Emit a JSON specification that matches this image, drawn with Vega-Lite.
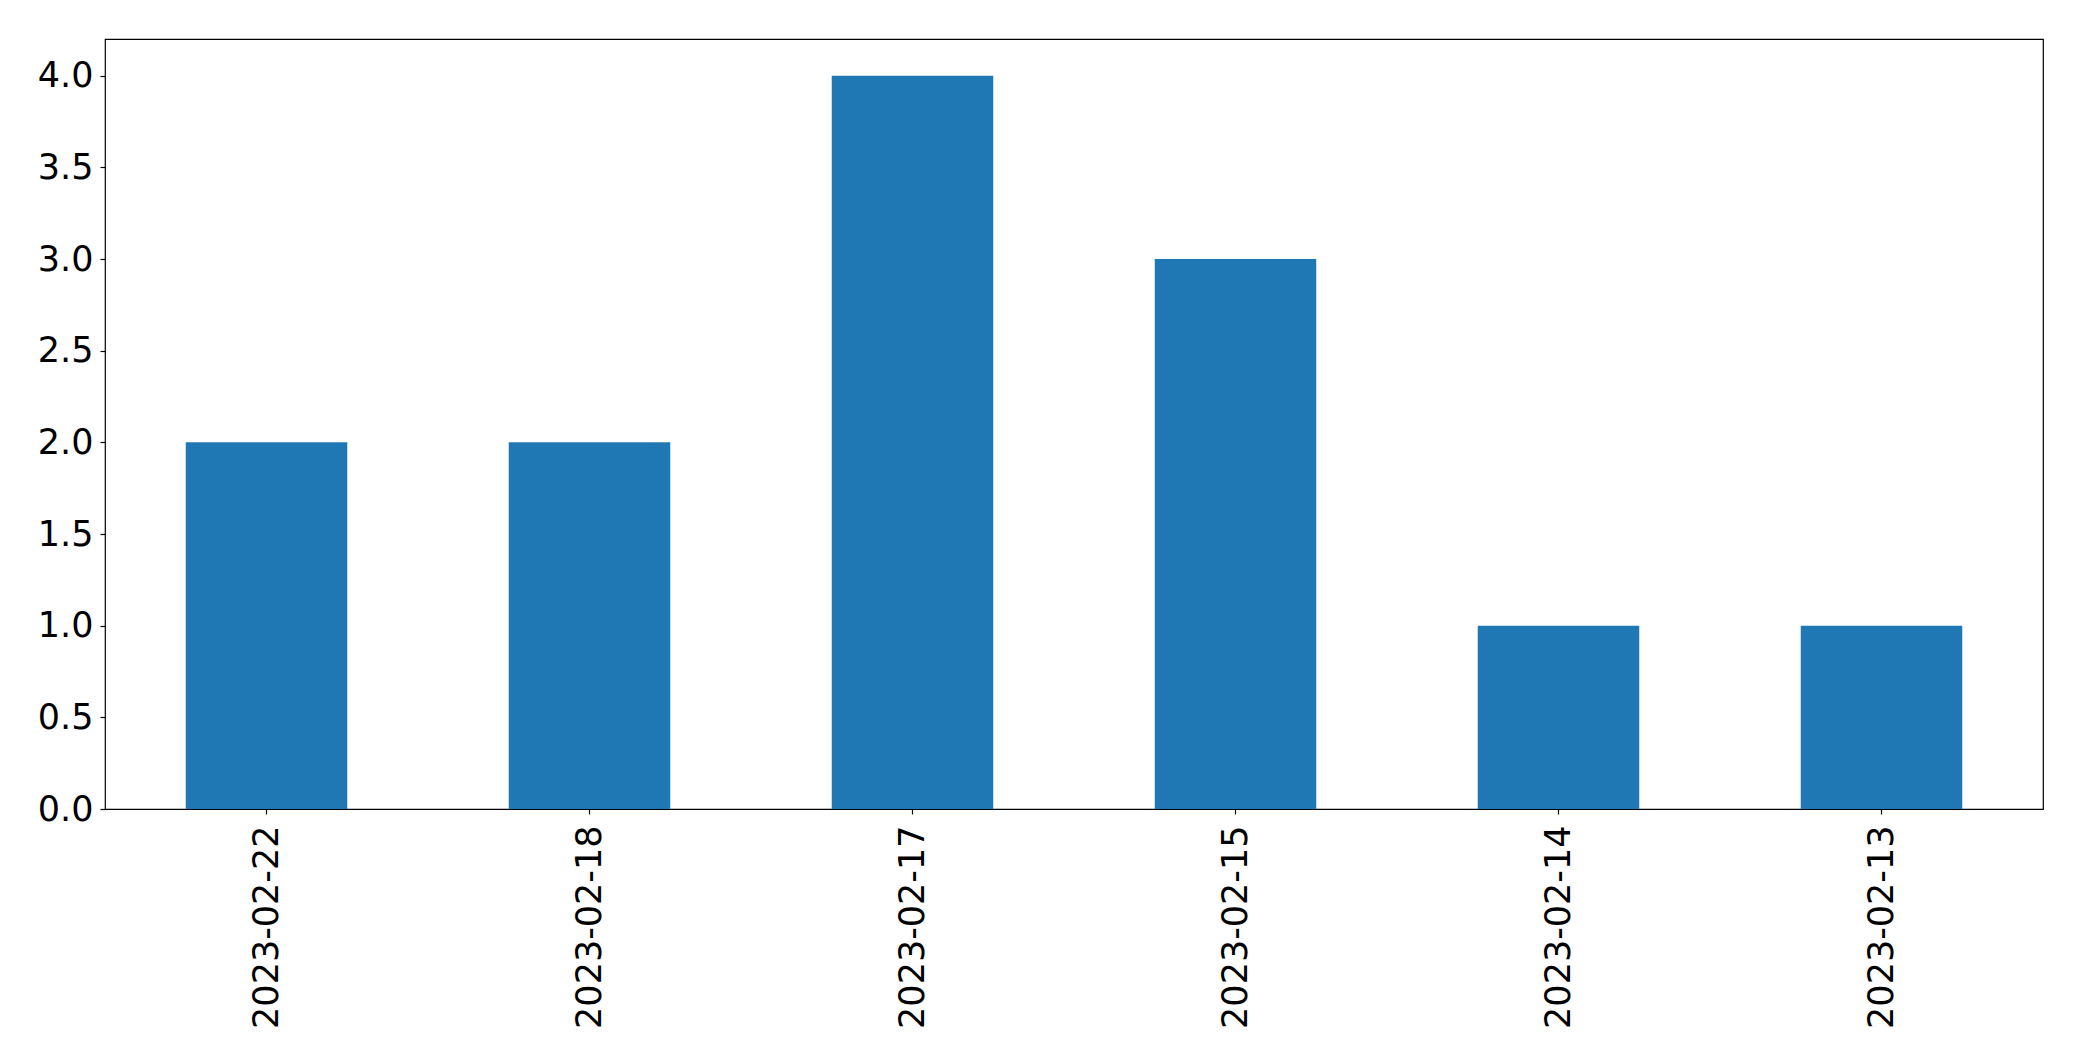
{
  "$schema": "https://vega.github.io/schema/vega-lite/v6.json",
  "autosize": {"type": "none"},
  "padding": {"left": 105, "top": 39, "right": 39, "bottom": 252},
  "width": 1938,
  "height": 770,
  "background": "white",
  "config": {
    "view": {"stroke": "black", "strokeWidth": 1.2},
    "font": "DejaVu Sans",
    "axis": {
      "labelFont": "DejaVu Sans",
      "labelFontSize": 35,
      "labelColor": "black",
      "labelLimit": 0,
      "tickColor": "black",
      "tickSize": 5,
      "tickWidth": 1.2,
      "grid": false,
      "domain": false,
      "title": null
    }
  },
  "data": {
    "values": [
      {"date": "2023-02-22", "count": 2},
      {"date": "2023-02-18", "count": 2},
      {"date": "2023-02-17", "count": 4},
      {"date": "2023-02-15", "count": 3},
      {"date": "2023-02-14", "count": 1},
      {"date": "2023-02-13", "count": 1}
    ]
  },
  "mark": {"type": "bar", "color": "#1f77b4"},
  "encoding": {
    "x": {
      "field": "date",
      "type": "nominal",
      "sort": null,
      "scale": {"paddingInner": 0.5, "paddingOuter": 0.25},
      "axis": {"labelAngle": -90, "labelPadding": 11}
    },
    "y": {
      "field": "count",
      "type": "quantitative",
      "scale": {"domain": [0, 4.2], "nice": false},
      "axis": {"values": [0, 0.5, 1, 1.5, 2, 2.5, 3, 3.5, 4], "format": ".1f", "labelPadding": 7}
    }
  }
}
